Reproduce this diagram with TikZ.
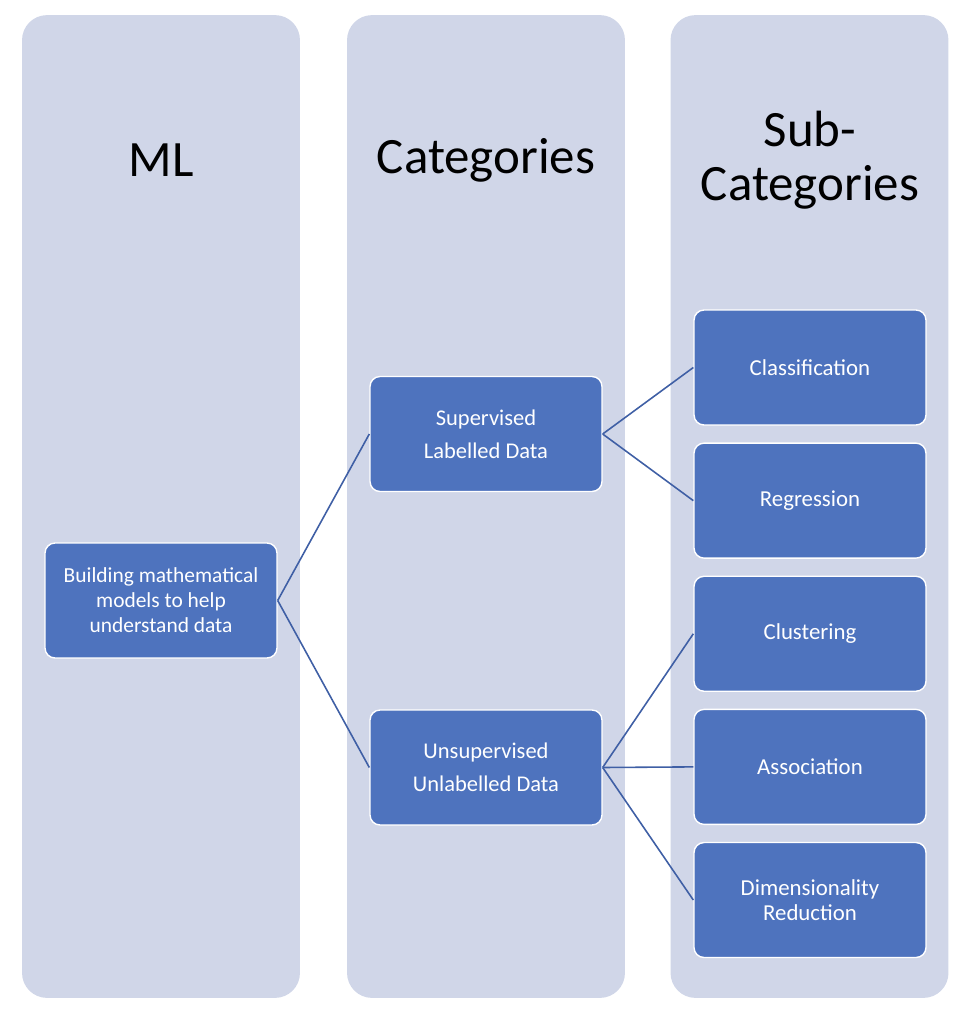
\documentclass[tikz,border=0pt]{standalone}
\usepackage{fontspec}
\setmainfont{Carlito}
\usetikzlibrary{positioning}

\definecolor{colbg}{RGB}{208,214,232}
\definecolor{boxblue}{RGB}{78,115,190}
\definecolor{linkblue}{RGB}{63,95,165}

\begin{document}
\begin{tikzpicture}[x=0.02cm, y=-0.02cm,
  column/.style={fill=colbg, rounded corners=0.5cm, minimum width=5.56cm,
    minimum height=19.66cm, inner sep=0},
  header/.style={font=\fontsize{29}{31}\selectfont, align=center},
  box/.style={fill=boxblue, draw=white, line width=0.8pt, rounded corners=0.2cm,
    minimum width=4.64cm, minimum height=2.3cm, text=white, align=center,
    font=\fontsize{13}{14}\selectfont},
  link/.style={draw=linkblue, line width=0.9pt},
  node distance=0.335cm]

\useasboundingbox (0,0) rectangle (966,1014);

% columns
\node[column] (colml) at (161,506.5) {};
\node[column] (colcat) at (486,506.5) {};
\node[column] (colsub) at (809.5,506.5) {};

% headers
\node[header] (hml) at (161,160) {ML};
\node[header] (hcat) at (486,160) {Categories};
\node[header] (hsub) at (810,160) {Sub-\\Categories};

% boxes
\node[box, font=\fontsize{12.2}{14.2}\selectfont] (ml) at (161,600.5)
  {Building mathematical\\models to help\\understand data};
\node[box, font=\fontsize{12.8}{19}\selectfont] (sup) at (486,434) {Supervised\\Labelled Data};
\node[box, font=\fontsize{12.8}{19}\selectfont] (unsup) at (486,767.5) {Unsupervised\\Unlabelled Data};

\node[box] (class) at (810,367.5) {Classification};
\node[box, below=of class] (regr) {Regression};
\node[box, below=of regr] (clust) {Clustering};
\node[box, below=of clust] (assoc) {Association};
\node[box, below=of assoc] (dimred) {Dimensionality\\Reduction};

% links
\draw[link] (ml.east) -- (sup.west);
\draw[link] (ml.east) -- (unsup.west);
\draw[link] (sup.east) -- (class.west);
\draw[link] (sup.east) -- (regr.west);
\draw[link] (unsup.east) -- (clust.west);
\draw[link] (unsup.east) -- (assoc.west);
\draw[link] (unsup.east) -- (dimred.west);

\end{tikzpicture}
\end{document}
